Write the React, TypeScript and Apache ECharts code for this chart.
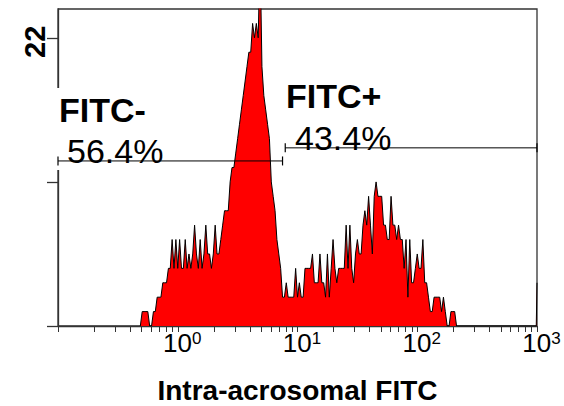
import React, { useEffect, useRef } from "react";
import * as echarts from "echarts";

// ---- Data ----
// Instrument channels: 64 channels per decade, channel 0 = 10^-1
const CHANNELS_PER_DECADE = 64;
const AXIS_MIN = 0.1;
const AXIS_MAX = 1000;
const FIRST_CHANNEL = 44;

// event counts in axis units, channel 44..89
const leftPopulation = [
  0, 1.1, 1.1, 1.1, 1.1, 0, 0, 1.1, 1.1, 2.2, 2.2, 2.2, 3.3, 3.3, 3.3, 4.4,
  4.4, 6.6, 4.4, 6.6, 4.4, 6.6, 4.4, 4.4, 6.6, 4.4, 5.5, 4.4, 5.5, 7.7, 5.5,
  4.4, 6.6, 4.4, 5.5, 7.7, 5.5, 5.5, 4.4, 5.5, 7.7, 5.5, 5.5, 6.6, 7.7, 8.8,
];
// channel 90..119
const mainPeak = [
  8.8, 8.8, 11, 12.1, 12.1, 13.2, 14.3, 15.4, 16.5, 17.6, 18.7, 19.8, 20.9,
  20.9, 23.1, 22, 23.1, 22, 28.6, 19.8, 17.6, 16.5, 15.4, 14.3, 11, 9.9, 8.8,
  6.6, 5.5, 4.4,
];
// channel 120..213
const rightPopulation = [
  2.2, 2.2, 3.3, 2.2, 2.2, 2.2, 2.2, 4.4, 2.2, 3.3,
  2.2, 2.2, 4.4, 4.4, 4.4, 4.4, 5.5, 3.3, 3.3, 3.3,
  5.5, 3.3, 3.3, 2.2, 5.5, 2.2, 4.4, 6.6, 4.4, 3.3,
  4.4, 4.4, 4.4, 4.4, 7.7, 4.4, 7.7, 4.4, 3.3, 5.5,
  6.6, 5.5, 5.5, 7.7, 8.8, 7.7, 9.9, 7.7, 5.5, 9.9,
  11, 9.9, 9.9, 9.9, 7.7, 7.7, 6.6, 6.6, 9.9, 7.7,
  7.7, 6.6, 7.7, 6.6, 6.6, 4.4, 6.6, 2.2, 6.6, 3.3,
  3.3, 4.4, 5.5, 4.4, 4.4, 6.6, 3.3, 3.3, 2.2, 1.1,
  1.1, 2.2, 2.2, 2.2, 2.2, 1.1, 2.2, 1.1, 0, 0,
  1.1, 1.1, 1.1, 0,
];
// off-scale channel at the top of the range
const overflowChannels = [255.6, 256];
const overflowValues = [0, 3.3];

const majorTickValues = [0.1, 1, 10, 100, 1000];
const minorTickValues = [
  0.2, 0.3, 0.4, 0.5, 0.6, 0.7, 0.8, 0.9,
  2, 3, 4, 5, 6, 7, 8, 9,
  20, 30, 40, 50, 60, 70, 80, 90,
  200, 300, 400, 500, 600, 700, 800, 900,
];
const yTickValues = [0, 11, 22];
const yLabelValues = [22];
const Y_MAX = 24.2;

// gates
const gateMinusX = [0.1, 7.5];
const gateMinusLevel = 12.6;
const gatePlusX = [7.9, 1000];
const gatePlusLevel = 13.6;
const gateLabels = ["FITC-", "56.4%", "FITC+", "43.4%"];

const xTitle = "Intra-acrosomal FITC";

const FONT = "'Liberation Sans', Arial, Helvetica, sans-serif";

function channelToValue(ch: number) {
  return AXIS_MIN * Math.pow(10, ch / CHANNELS_PER_DECADE);
}

export default function App() {
  const ref = useRef<HTMLDivElement>(null);

  useEffect(() => {
    if (!ref.current) return;
    const chart = echarts.init(ref.current, null, { renderer: "svg" });

    const counts = [...leftPopulation, ...mainPeak, ...rightPopulation];
    const histData: number[][] = counts.map((v, i) => [
      channelToValue(FIRST_CHANNEL + i),
      v,
    ]);
    overflowChannels.forEach((ch, i) => {
      histData.push([channelToValue(ch), overflowValues[i]]);
    });

    const axisColor = "#333";

    const option: any = {
      animation: false,
      backgroundColor: "#fff",
      grid: {
        left: 58,
        right: 27,
        top: 9,
        bottom: 80,
        outerBoundsMode: "none",
        containLabel: false,
        show: true,
        borderColor: axisColor,
        borderWidth: 1.3,
        backgroundColor: "transparent",
      },
      xAxis: {
        type: "log",
        logBase: 10,
        min: AXIS_MIN,
        max: AXIS_MAX,
        axisLine: { show: true, lineStyle: { color: axisColor, width: 1.3 } },
        axisTick: {
          show: true,
          length: 6,
          lineStyle: { color: axisColor, width: 1 },
          customValues: [...majorTickValues, ...minorTickValues],
        },
        minorTick: { show: false },
        splitLine: { show: false },
        axisLabel: {
          margin: 4,
          padding: [0, 0, 0, 9],
          formatter: (v: number) => {
            const e = Math.round(Math.log10(v));
            if (e < 0) return "";
            return `{b|10}{s|${e}}`;
          },
          rich: {
            b: { fontSize: 26, fontFamily: FONT, color: "#000" },
            s: {
              fontSize: 17,
              fontFamily: FONT,
              color: "#000",
              verticalAlign: "top",
            },
          },
        },
        name: xTitle,
        nameLocation: "middle",
        nameGap: 52,
        nameTextStyle: {
          fontSize: 28,
          lineHeight: 24,
          fontWeight: "bold",
          fontFamily: FONT,
          color: "#000",
        },
      },
      yAxis: {
        type: "value",
        min: 0,
        max: Y_MAX,
        interval: 11,
        axisLine: { show: true, lineStyle: { color: axisColor, width: 1.3 } },
        axisTick: {
          show: true,
          length: 11,
          lineStyle: { color: axisColor, width: 1.3 },
          customValues: yTickValues,
        },
        splitLine: { show: false },
        axisLabel: {
          customValues: yLabelValues,
          rotate: 90,
          margin: 8.5,
          padding: [0, 8, 0, 0],
          fontSize: 29,
          fontWeight: "bold",
          fontFamily: FONT,
          color: "#000",
        },
      },
      series: [
        {
          type: "line",
          data: histData,
          showSymbol: false,
          symbol: "none",
          lineStyle: { color: "#000", width: 1 },
          areaStyle: { color: "#ff0000", opacity: 1 },
          z: 2,
          silent: true,
        },
        {
          type: "line",
          data: gateMinusX.map((x) => [x, gateMinusLevel]),
          symbol: "rect",
          symbolSize: [1.2, 9],
          itemStyle: { color: "#000" },
          lineStyle: { color: "#000", width: 1 },
          clip: false,
          z: 10,
          silent: true,
        },
        {
          type: "line",
          data: gatePlusX.map((x) => [x, gatePlusLevel]),
          symbol: "rect",
          symbolSize: [1.2, 9],
          itemStyle: { color: "#000" },
          lineStyle: { color: "#000", width: 1 },
          clip: false,
          z: 10,
          silent: true,
        },
      ],
      graphic: [
        {
          type: "rect",
          z: 5,
          silent: true,
          shape: { x: 54, y: 88, width: 6, height: 82 },
          style: { fill: "#fff" },
        },
        {
          type: "text",
          z: 20,
          x: 59,
          y: 92.5,
          style: {
            text: gateLabels[0],
            font: `bold 34px ${FONT}`,
            fill: "#000",
            verticalAlign: "top",
          },
        },
        {
          type: "text",
          z: 20,
          x: 67,
          y: 133.5,
          style: {
            text: gateLabels[1],
            font: `34px ${FONT}`,
            fill: "#000",
            verticalAlign: "top",
          },
        },
        {
          type: "text",
          z: 20,
          x: 286,
          y: 78.5,
          style: {
            text: gateLabels[2],
            font: `bold 34px ${FONT}`,
            fill: "#000",
            verticalAlign: "top",
          },
        },
        {
          type: "text",
          z: 20,
          x: 295,
          y: 120.5,
          style: {
            text: gateLabels[3],
            font: `34px ${FONT}`,
            fill: "#000",
            verticalAlign: "top",
          },
        },
      ],
    };

    chart.setOption(option);
    return () => chart.dispose();
  }, []);

  return (
    <div
      ref={ref}
      style={{
        position: "fixed",
        left: 0,
        top: 0,
        width: 564,
        height: 406,
        background: "#fff",
      }}
    />
  );
}
